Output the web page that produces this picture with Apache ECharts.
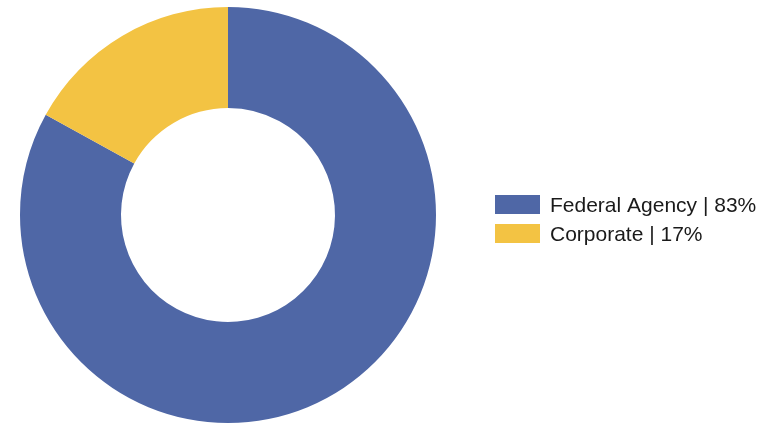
<!DOCTYPE html>
<html><head><meta charset="utf-8">
<script src="https://cdn.jsdelivr.net/npm/echarts@6/dist/echarts.min.js"></script>
<style>html,body{margin:0;padding:0;background:#fff}#c{width:782px;height:425px}</style>
</head><body><div id="c"></div>
<script>
const categories = ["Federal Agency", "Corporate"];
const values = [83, 17];
const colors = ["#4F67A6", "#F3C343"];
const chart = echarts.init(document.getElementById('c'), null, {renderer: 'canvas'});
chart.setOption({
  animation: false,
  color: colors,
  legend: {
    orient: 'vertical', left: 495, top: 195,
    itemWidth: 45, itemHeight: 19, itemGap: 7,
    icon: 'rect',
    textStyle: {fontFamily: 'Liberation Sans, Arial', fontSize: 21, color: '#1a1a1a', padding: [0,0,0,5],
      rich: {t: {fontFamily: 'Liberation Sans, Arial', fontSize: 21, color: '#1a1a1a', lineHeight: 19, padding: [4,0,0,0], height: 15}}},
    formatter: function(name){ const i = categories.indexOf(name); return '{t|' + name + ' | ' + values[i] + '%}'; },
    padding: 0
  },
  series: [{
    type: 'pie', center: [228, 215], radius: [107, 208],
    startAngle: 90, clockwise: true,
    label: {show: false}, labelLine: {show: false},
    itemStyle: {borderWidth: 0},
    emphasis: {disabled: true},
    data: categories.map((c, i) => ({name: c, value: values[i]}))
  }]
});
</script></body></html>
